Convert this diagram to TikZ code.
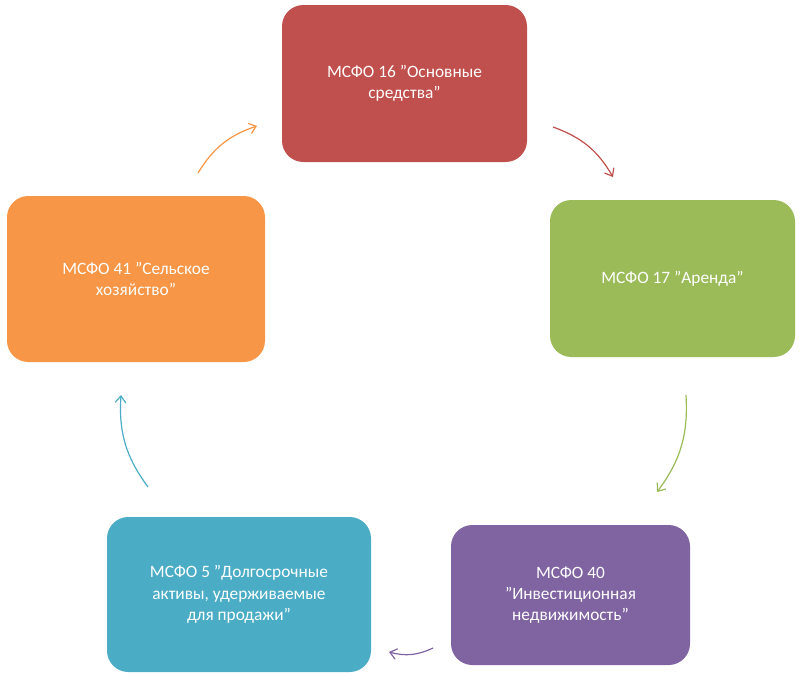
\documentclass[tikz,border=0pt]{standalone}
\usepackage{fontspec}
\setmainfont{Carlito}
\usetikzlibrary{arrows.meta}
\definecolor{cred}{HTML}{C0504D}
\definecolor{cgreen}{HTML}{9BBB59}
\definecolor{cpurple}{HTML}{8064A2}
\definecolor{cblue}{HTML}{4BACC6}
\definecolor{corange}{HTML}{F79646}
\begin{document}
\begin{tikzpicture}[x=0.75pt,y=-0.75pt,
  box/.style={rectangle,rounded corners=16pt,draw=none,text=white,align=center,
    font=\fontsize{13}{16}\selectfont},
  cyc/.style={line width=0.9pt,-{Straight Barb[length=5pt,width=8pt]},bend left=20}]
\useasboundingbox (0,0) rectangle (802,679);

% boxes
\node[box,fill=cred,minimum width=183.75pt,minimum height=117.75pt] (ias16) at (404.5,83.5) {МСФО 16 "Основные\\средства"};
\node[box,fill=cgreen,minimum width=183.75pt,minimum height=117.75pt] (ias17) at (672.5,278.5) {МСФО 17 "Аренда"};
\node[box,fill=cpurple,minimum width=179.25pt,minimum height=105pt] (ias40) at (570.5,595) {МСФО 40\\"Инвестиционная\\недвижимость"};
\node[box,fill=cblue,minimum width=198pt,minimum height=116.25pt] (ifrs5) at (239,594.5) {МСФО 5 "Долгосрочные\\активы, удерживаемые\\для продажи"};
\node[box,fill=corange,minimum width=193.5pt,minimum height=124.5pt] (ias41) at (136,279) {МСФО 41 "Сельское\\хозяйство"};

% arrow ends
\coordinate (a1) at (553,127); \coordinate (b1) at (613,177);
\coordinate (a2) at (686,395); \coordinate (b2) at (657,492);
\coordinate (a3) at (433,648); \coordinate (b3) at (389,652);
\coordinate (a4) at (148,487); \coordinate (b4) at (121,395);
\coordinate (a5) at (198,173); \coordinate (b5) at (257,126);

% arrows
\draw[cyc,cred] (a1) to (b1);
\draw[cyc,cgreen] (a2) to (b2);
\draw[cyc,cpurple] (a3) to (b3);
\draw[cyc,cblue] (a4) to (b4);
\draw[cyc,corange] (a5) to (b5);
\end{tikzpicture}
\end{document}
